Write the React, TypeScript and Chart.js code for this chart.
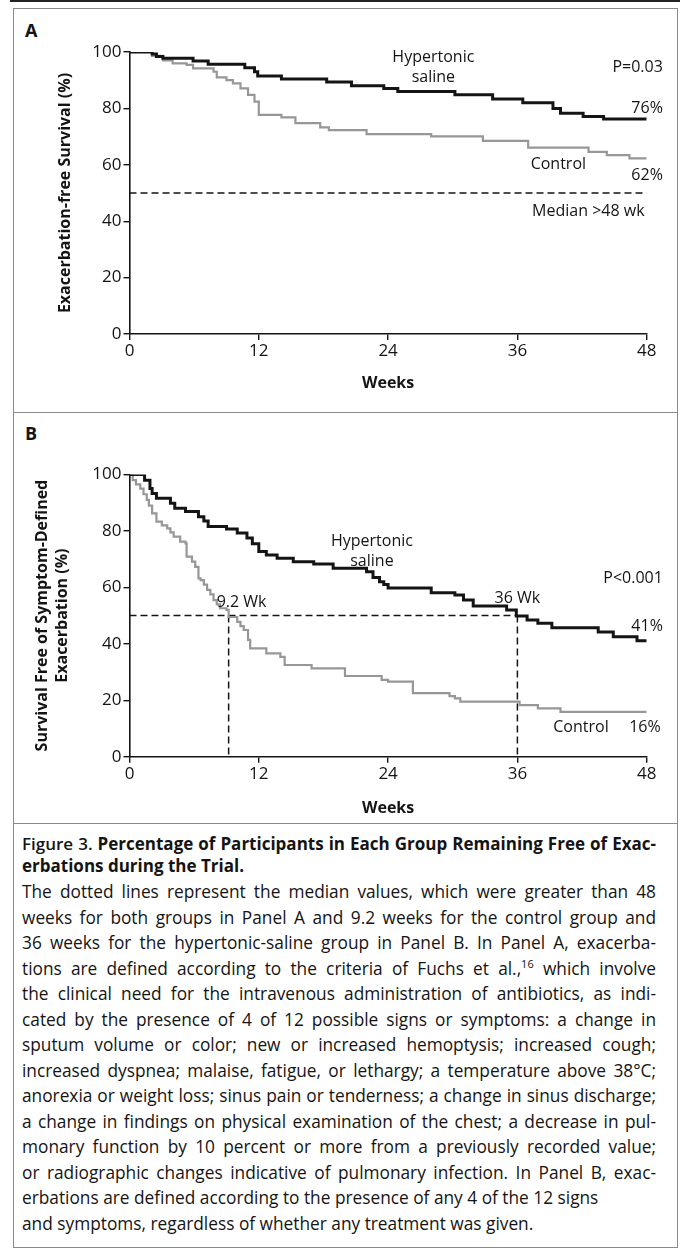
import React, { useEffect, useRef } from "react";
import { Chart, registerables } from "chart.js";

Chart.register(...registerables);

const FONT = "'Open Sans', 'DejaVu Sans', sans-serif";
const INK = "#141414";
const GRAY = "#979797";

// ---------- data ----------
const WEEK_MAX = 48;
const WEEK_STEP = 12;
const PCT_STEP = 20;

// Panel A: exacerbation-free survival (Fuchs criteria)
const A_SALINE_WEEKS = [0, 2.1, 2.5, 3.1, 5.9, 7.3, 10.7, 11.6, 11.9, 14.1, 18.3, 20.6, 23.6, 24.9, 30.2, 33.7, 36.5, 39.3, 40.0, 42.1, 44.0, 48];
const A_SALINE_PCT = [100, 99.3, 98.4, 97.8, 96.8, 95.7, 94.4, 93.0, 91.5, 90.4, 89.4, 88.0, 87.1, 86.0, 84.8, 83.3, 82.0, 80.0, 78.3, 77.1, 76.2, 76.2];

const A_CONTROL_WEEKS = [0, 2.1, 3.1, 4.0, 5.3, 5.9, 7.8, 8.1, 9.0, 9.6, 10.3, 11.0, 11.6, 12.0, 14.1, 15.4, 17.7, 18.5, 22.0, 28.0, 32.8, 37.0, 42.6, 44.3, 46.4, 48];
const A_CONTROL_PCT = [100, 98.6, 97.0, 96.0, 95.4, 94.2, 93.0, 91.0, 90.0, 88.9, 87.1, 84.8, 82.4, 77.7, 76.8, 74.8, 73.3, 72.3, 70.9, 70.1, 68.5, 66.1, 64.6, 63.4, 62.3, 62.3];

const A_MEDIAN_WEEKS = [0, 48];
const A_MEDIAN_PCT = [50, 50];

// Panel B: survival free of symptom-defined exacerbation
const B_SALINE_WEEKS = [0, 1.4, 1.9, 2.1, 2.5, 3.8, 4.2, 5.2, 6.4, 6.9, 7.3, 9.0, 10.0, 10.9, 11.4, 12.0, 12.7, 13.7, 15.2, 17.1, 18.9, 22.0, 22.6, 23.2, 23.6, 24.0, 28.0, 30.2, 31.0, 31.9, 35.0, 35.9, 36.9, 37.9, 39.2, 43.5, 44.9, 47.1, 48];
const B_SALINE_PCT = [100, 98.0, 95.0, 93.3, 91.6, 89.8, 88.0, 86.9, 85.0, 83.5, 81.6, 80.7, 79.3, 77.5, 75.5, 72.7, 71.5, 70.3, 69.1, 68.3, 66.8, 65.5, 63.5, 62.0, 61.0, 59.8, 58.1, 57.3, 55.5, 53.4, 52.0, 49.9, 48.4, 47.3, 45.7, 44.2, 42.5, 41.1, 41.1];

const B_CONTROL_WEEKS = [0, 0.3, 0.6, 1.0, 1.3, 1.6, 1.8, 2.1, 2.5, 3.0, 3.5, 3.8, 4.1, 4.7, 5.2, 5.3, 5.8, 6.1, 6.4, 6.6, 6.9, 7.2, 7.5, 7.8, 8.1, 8.4, 9.0, 9.2, 10.0, 10.3, 10.6, 11.0, 11.2, 12.7, 14.0, 14.4, 16.9, 20.0, 23.4, 24.0, 26.3, 29.7, 30.2, 30.7, 36.2, 37.9, 40.0, 48];
const B_CONTROL_PCT = [100, 98.0, 96.5, 95.0, 93.0, 91.0, 89.0, 86.2, 83.3, 82.0, 80.9, 79.5, 78.0, 76.2, 75.6, 70.9, 69.1, 67.3, 63.2, 62.6, 61.0, 59.1, 57.5, 55.5, 54.0, 52.6, 52.0, 49.5, 47.8, 46.3, 44.9, 41.4, 38.4, 36.6, 35.4, 32.5, 31.3, 28.6, 27.2, 26.6, 22.5, 21.5, 20.7, 19.5, 18.3, 17.1, 15.9, 15.9];

const B_MEDIAN_H_WEEKS = [0, 36];
const B_MEDIAN_H_PCT = [50, 50];
const B_MEDIAN_CTRL_WEEKS = [9.2, 9.2];
const B_MEDIAN_CTRL_PCT = [50, 0];
const B_MEDIAN_SAL_WEEKS = [36, 36];
const B_MEDIAN_SAL_PCT = [50, 0];

// Annotation texts anchored in data units (week, percent)
const A_LABELS = [
  { text: "Hypertonic", x: 28.2, y: 98.2, align: "center" },
  { text: "saline", x: 28.2, y: 91.1, align: "center" },
  { text: "P=0.03", x: 49.5, y: 94.7, align: "right" },
  { text: "76%", x: 49.5, y: 80.1, align: "right" },
  { text: "Control", x: 39.8, y: 60.3, align: "center" },
  { text: "62%", x: 49.5, y: 56.4, align: "right" },
  { text: "Median >48 wk", x: 47.8, y: 43.3, align: "right" },
];
const B_LABELS = [
  { text: "Hypertonic", x: 22.5, y: 76.2, align: "center" },
  { text: "saline", x: 22.5, y: 69.1, align: "center" },
  { text: "P<0.001", x: 49.5, y: 63.0, align: "right" },
  { text: "36 Wk", x: 36.0, y: 56.2, align: "center" },
  { text: "9.2 Wk", x: 10.4, y: 54.5, align: "center" },
  { text: "41%", x: 49.5, y: 46.0, align: "right" },
  { text: "Control", x: 41.9, y: 10.5, align: "center" },
  { text: "16%", x: 49.3, y: 10.5, align: "right" },
];

const CAPTION_BODY = [
  "The dotted lines represent the median values, which were greater than 48",
  "weeks for both groups in Panel A and 9.2 weeks for the control group and",
  "36 weeks for the hypertonic-saline group in Panel B. In Panel A, exacerba-",
  "SUP",
  "the clinical need for the intravenous administration of antibiotics, as indi-",
  "cated by the presence of 4 of 12 possible signs or symptoms: a change in",
  "sputum volume or color; new or increased hemoptysis; increased cough;",
  "increased dyspnea; malaise, fatigue, or lethargy; a temperature above 38°C;",
  "anorexia or weight loss; sinus pain or tenderness; a change in sinus discharge;",
  "a change in findings on physical examination of the chest; a decrease in pul-",
  "monary function by 10 percent or more from a previously recorded value;",
  "or radiographic changes indicative of pulmonary infection. In Panel B, exac-",
  "erbations are defined according to the presence of any 4 of the 12 signs",
  "and symptoms, regardless of whether any treatment was given.",
];
const JUSTIFIED_LINES = 12;

const pts = (xs: number[], ys: number[]) => xs.map((x, i) => ({ x, y: ys[i] }));

const labelPlugin = {
  id: "kmLabels",
  afterDatasetsDraw(chart: any, _args: any, opts: any) {
    const { ctx, scales } = chart;
    ctx.save();
    ctx.fillStyle = INK;
    ctx.textBaseline = "middle";
    ctx.font = `16px ${FONT}`;
    for (const l of opts.items || []) {
      ctx.textAlign = l.align;
      ctx.fillText(l.text, scales.x.getPixelForValue(l.x), scales.y.getPixelForValue(l.y));
    }
    ctx.restore();
  },
};

type PanelCfg = {
  saline: { x: number; y: number }[];
  control: { x: number; y: number }[];
  medians: { x: number; y: number }[][];
  labels: any[];
  yTitle: string | string[];
  yTitlePad: number;
  yTitleLH: number;
  padTop: number;
  xHeight: number;
  xTitlePadBottom: number;
};

function makeChart(canvas: HTMLCanvasElement, cfg: PanelCfg) {
  const axisFont = { family: FONT, size: 17 };
  const titleFont = (lh: number) => ({ family: FONT, size: 16, weight: "bold" as const, lineHeight: lh });
  const datasets: any[] = [
    {
      data: cfg.saline,
      borderColor: INK,
      borderWidth: 3,
      stepped: true,
      pointRadius: 0,
      fill: false,
    },
    {
      data: cfg.control,
      borderColor: GRAY,
      borderWidth: 2.2,
      stepped: true,
      pointRadius: 0,
      fill: false,
    },
    ...cfg.medians.map((m) => ({
      data: m,
      borderColor: INK,
      borderWidth: 1.5,
      borderDash: [7, 4],
      pointRadius: 0,
      fill: false,
    })),
  ];
  return new Chart(canvas, {
    type: "line",
    data: { datasets },
    plugins: [labelPlugin as any],
    options: {
      animation: false,
      responsive: false,
      devicePixelRatio: 1,
      events: [],
      layout: { padding: { top: cfg.padTop, right: 30.3, left: 0, bottom: 0 } },
      plugins: {
        legend: { display: false },
        tooltip: { enabled: false },
        kmLabels: { items: cfg.labels },
      } as any,
      scales: {
        x: {
          type: "linear",
          min: 0,
          max: WEEK_MAX,
          ticks: { stepSize: WEEK_STEP, color: INK, font: axisFont, padding: 1, maxRotation: 0 },
          grid: { display: true, drawOnChartArea: false, drawTicks: true, tickLength: 6, color: INK, lineWidth: 1.4 },
          border: { display: true, color: INK, width: 1.6 },
          title: {
            display: true,
            text: "Weeks",
            color: INK,
            font: titleFont(1.2),
            padding: { top: 0, bottom: cfg.xTitlePadBottom },
          },
          afterFit: (s: any) => {
            s.height = cfg.xHeight;
          },
        },
        y: {
          type: "linear",
          min: 0,
          max: 100,
          ticks: { stepSize: PCT_STEP, color: INK, font: axisFont, padding: 2 },
          grid: { display: true, drawOnChartArea: false, drawTicks: true, tickLength: 6, color: INK, lineWidth: 1.4 },
          border: { display: true, color: INK, width: 1.6 },
          title: {
            display: true,
            text: cfg.yTitle,
            color: INK,
            font: titleFont(cfg.yTitleLH),
            padding: { top: cfg.yTitlePad, bottom: 0 },
          },
          afterFit: (s: any) => {
            s.width = 116.5;
          },
        },
      },
    } as any,
  });
}

export default function App() {
  const refA = useRef<HTMLCanvasElement>(null);
  const refB = useRef<HTMLCanvasElement>(null);

  useEffect(() => {
    const a = makeChart(refA.current!, {
      saline: pts(A_SALINE_WEEKS, A_SALINE_PCT),
      control: pts(A_CONTROL_WEEKS, A_CONTROL_PCT),
      medians: [pts(A_MEDIAN_WEEKS, A_MEDIAN_PCT)],
      labels: A_LABELS,
      yTitle: "Exacerbation-free Survival (%)",
      yTitlePad: 42.4,
      yTitleLH: 1.2,
      padTop: 44,
      xHeight: 78,
      xTitlePadBottom: 19.4,
    });
    const b = makeChart(refB.current!, {
      saline: pts(B_SALINE_WEEKS, B_SALINE_PCT),
      control: pts(B_CONTROL_WEEKS, B_CONTROL_PCT),
      medians: [
        pts(B_MEDIAN_H_WEEKS, B_MEDIAN_H_PCT),
        pts(B_MEDIAN_CTRL_WEEKS, B_MEDIAN_CTRL_PCT),
        pts(B_MEDIAN_SAL_WEEKS, B_MEDIAN_SAL_PCT),
      ],
      labels: B_LABELS,
      yTitle: ["Survival Free of Symptom-Defined", "Exacerbation (%)"],
      yTitlePad: 18.6,
      yTitleLH: 1.3,
      padTop: 62.5,
      xHeight: 66.3,
      xTitlePadBottom: 5.4,
    });
    return () => {
      a.destroy();
      b.destroy();
    };
  }, []);

  const frame = "#8a8a8a";
  const abs = (o: any): React.CSSProperties => ({ position: "absolute", ...o });
  const just: React.CSSProperties = { textAlign: "justify", textAlignLast: "justify" as any };

  return (
    <div
      style={{
        position: "absolute",
        left: 0,
        top: 0,
        width: 680,
        height: 1257,
        background: "#fff",
        overflow: "hidden",
        fontFamily: FONT,
        color: INK,
      }}
    >
      <div style={abs({ left: 10, top: 0, width: 670, height: 2, background: "#222" })} />
      <div
        style={abs({
          left: 13,
          top: 8,
          width: 665,
          height: 1240,
          border: `1px solid ${frame}`,
          boxSizing: "border-box",
        })}
      />
      <div style={abs({ left: 13, top: 412, width: 665, height: 1, background: frame })} />
      <div style={abs({ left: 13, top: 823, width: 665, height: 1, background: frame })} />

      <div style={abs({ left: 25, top: 18, fontSize: 18, fontWeight: 700, lineHeight: "24px" })}>A</div>
      <div style={abs({ left: 25, top: 421, fontSize: 18, fontWeight: 700, lineHeight: "24px" })}>B</div>

      <canvas ref={refA} width={664} height={404} style={abs({ left: 13, top: 8, width: 664, height: 404 })} />
      <canvas ref={refB} width={664} height={411} style={abs({ left: 13, top: 412, width: 664, height: 411 })} />

      <div style={abs({ left: 22, top: 833, width: 634, fontSize: 17, lineHeight: "22px" })}>
        <div style={just}>
          <span style={{ fontWeight: 600 }}>Figure 3. </span>
          <span style={{ fontWeight: 700 }}>Percentage of Participants in Each Group Remaining Free of Exac-</span>
        </div>
        <div style={{ fontWeight: 700 }}>erbations during the Trial.</div>
      </div>

      <div style={abs({ left: 22, top: 879, width: 634, fontSize: 17.3, lineHeight: "25.5px" })}>
        {CAPTION_BODY.map((line, i) => {
          const st = i < JUSTIFIED_LINES ? just : { textAlign: "left" as const };
          return line === "SUP" ? (
            <div key={i} style={st}>
              tions are defined according to the criteria of Fuchs et al.,
              <sup style={{ fontSize: 11, lineHeight: 0 }}>16</sup> which involve
            </div>
          ) : (
            <div key={i} style={st}>
              {line}
            </div>
          );
        })}
      </div>
    </div>
  );
}
